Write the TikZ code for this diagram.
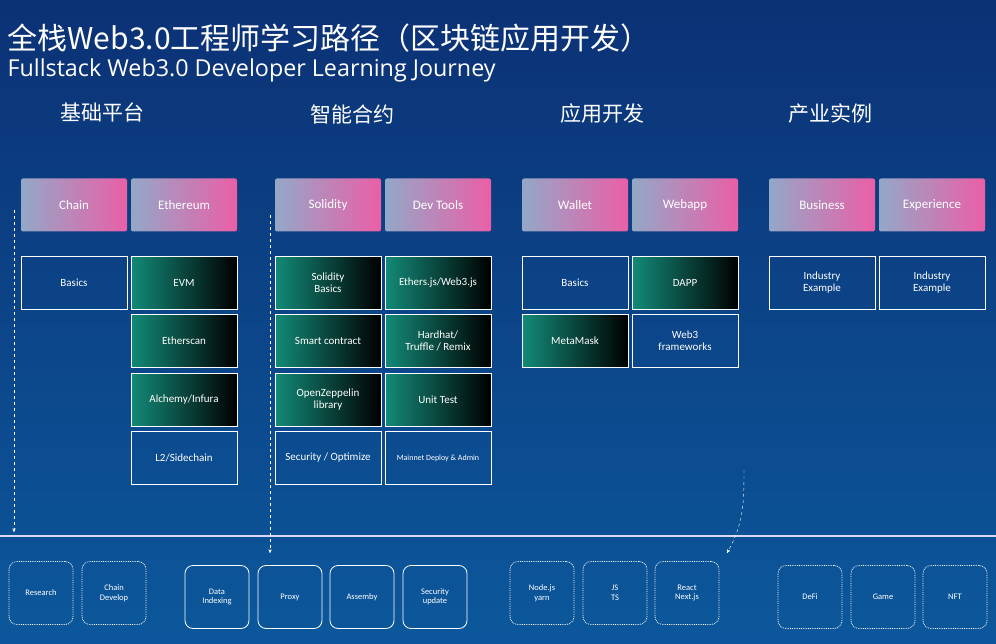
\documentclass[tikz,border=0pt]{standalone}
\usepackage{fontspec}
\setmainfont{Carlito}
\newfontfamily\cjk{Noto Sans CJK SC}
\newfontfamily\sub{Open Sans}
\usetikzlibrary{arrows}
\definecolor{bgblue}{HTML}{0E3A8A}
\definecolor{hdgrey}{HTML}{93A8C8}
\definecolor{hdpink}{HTML}{EA5FA6}
\definecolor{teal}{HTML}{138A78}
\tikzset{
  box/.style={draw=white, thick, minimum width=106pt, minimum height=53pt, text=white, align=center, font=\fontsize{11}{12}\selectfont},
  plain/.style={box},
  dark/.style={box, left color=teal, right color=black},
  head/.style={box, draw=none, rounded corners=2pt, left color=hdgrey, right color=hdpink, font=\fontsize{13}{14}\selectfont},
  item/.style={draw=white, thick, rounded corners=8pt, minimum width=64pt, minimum height=63pt, text=white, align=center, font=\fontsize{8.5}{9.5}\selectfont},
  dotted item/.style={item, densely dotted},
  title/.style={text=white, font=\cjk\fontsize{21}{23}\selectfont}
}
\begin{document}
\begin{tikzpicture}[x=1pt, y=-1pt, >=stealth']
        \shade[top color=bgblue!85!black, bottom color=bgblue!85!cyan] (0,0) rectangle (996,644);
        \useasboundingbox (0,0) rectangle (996,644);

        \node[anchor=west, text=white, font=\cjk\fontsize{30}{32}\selectfont] (t1) at (4,38) {全栈Web3.0工程师学习路径（区块链应用开发）};
        \node[anchor=west, text=white, font=\sub\fontsize{23.3}{25}\selectfont] (t2) at (4,70) {Fullstack Web3.0 Developer Learning Journey};

        \node[title] (g1) at (102,112) {基础平台};
        \node[title] (g2) at (352,114) {智能合约};
        \node[title] (g3) at (602,114) {应用开发};
        \node[title] (g4) at (830,114) {产业实例};

        % header row
        \node[head] (chain) at (74,205) {Chain};
        \node[head] (eth) at (184,205) {Ethereum};
        \node[head] (sol) at (328,205) {Solidity};
        \node[head] (dev) at (438,205) {Dev Tools};
        \node[head] (wal) at (575,205) {Wallet};
        \node[head] (web) at (685,205) {Webapp};
        \node[head] (bus) at (822,205) {Business};
        \node[head] (exp) at (932,205) {Experience};

        % blocks
        \node[plain] (basics) at (74,283) {Basics};
        \node[dark] (evm) at (184,283) {EVM};
        \node[dark] (scan) at (184,341) {Etherscan};
        \node[dark] (alch) at (184,400) {Alchemy/Infura};
        \node[plain] (l2) at (184,458) {L2/Sidechain};

        \node[dark] (solb) at (328,283) {Solidity\\Basics};
        \node[dark] (ethjs) at (438,283) {Ethers.js/Web3.js};
        \node[dark] (smart) at (328,341) {Smart contract};
        \node[dark] (hard) at (438,341) {Hardhat/\\Truffle / Remix};
        \node[dark] (oz) at (328,400) {OpenZeppelin\\library};
        \node[dark] (unit) at (438,400) {Unit Test};
        \node[plain] (sec) at (328,458) {Security / Optimize};
        \node[plain, font=\fontsize{8}{9}\selectfont] (main) at (438,458) {Mainnet Deploy \& Admin};

        \node[plain] (wbas) at (575,283) {Basics};
        \node[dark] (dapp) at (685,283) {DAPP};
        \node[dark] (mm) at (575,341) {MetaMask};
        \node[plain] (w3f) at (685,341) {Web3\\frameworks};

        \node[plain] (ind1) at (822,283) {Industry\\Example};
        \node[plain] (ind2) at (932,283) {Industry\\Example};

        % divider
        \coordinate (dl) at (0,536);
        \coordinate (dr) at (996,536);
        \draw[white!85!blue, line width=1.5pt] (dl) -- (dr);

        % bottom row
        \node[dotted item] (res) at (41,593) {Research};
        \node[dotted item] (cdev) at (114,593) {Chain\\Develop};
        \node[item] (didx) at (217,597) {Data\\Indexing};
        \node[item] (proxy) at (290,597) {Proxy};
        \node[item] (asm) at (362,597) {Assemby};
        \node[item] (secu) at (435,597) {Security\\update};
        \node[dotted item] (node) at (542,593) {Node.js\\yarn};
        \node[dotted item] (js) at (615,593) {JS\\TS};
        \node[dotted item] (react) at (687,593) {React\\Next.js};
        \node[dotted item] (defi) at (810,597) {DeFi};
        \node[dotted item] (game) at (883,597) {Game};
        \node[dotted item] (nft) at (955,597) {NFT};

        % dashed guides
        \coordinate (a1) at (14,210);
        \coordinate (a1e) at (14,532);
        \coordinate (a2) at (270,215);
        \coordinate (a2e) at (270,553);
        \coordinate (a3) at (744,470);
        \coordinate (a3e) at (727,553);
        \draw[->, white, thin, dashed] (a1) -- (a1e);
        \draw[->, white, thin, dashed] (a2) -- (a2e);
        \draw[->, white, thin, dashed] (a3) to[out=-90, in=60] (a3e);
    \end{tikzpicture}
\end{document}
